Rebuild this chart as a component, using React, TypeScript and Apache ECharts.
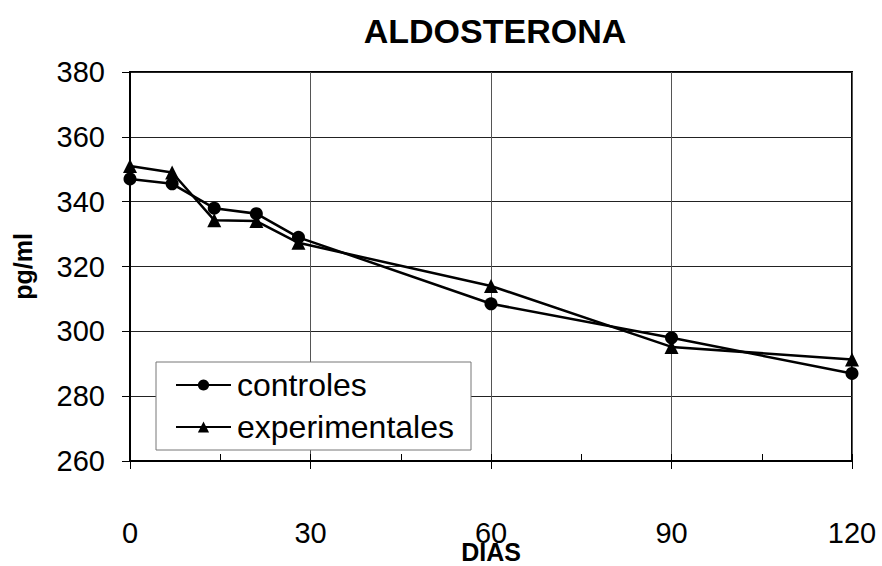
import React, { useEffect, useRef } from "react";
import * as echarts from "echarts";

const dias = [0, 7, 14, 21, 28, 60, 90, 120];
const controles = [347, 345.5, 338, 336.3, 329, 308.5, 298, 287];
const experimentales = [351, 349, 334.3, 334, 327.3, 314, 295.2, 291.3];
const xTicks = [0, 30, 60, 90, 120];
const yTicks = [260, 280, 300, 320, 340, 360, 380];

const FONT = "Liberation Sans, Arial, sans-serif";

export default function App() {
  const ref = useRef<HTMLDivElement>(null);
  useEffect(() => {
    const chart = echarts.init(ref.current!, undefined, { renderer: "svg" });
    chart.setOption({
      animation: false,
      backgroundColor: "#fff",
      textStyle: { fontFamily: FONT, color: "#000" },
      title: {
        text: "ALDOSTERONA",
        left: 495,
        top: 14,
        textAlign: "center",
        padding: 0,
        textStyle: { fontSize: 34, fontWeight: "bold", color: "#000", fontFamily: FONT },
      },
      legend: {
        orient: "vertical",
        left: 156,
        top: 362,
        padding: [7, 17, 7, 19],
        itemGap: 10,
        itemWidth: 55,
        itemHeight: 14,
        backgroundColor: "#fff",
        borderColor: "#777",
        borderWidth: 1,
        borderRadius: 0,
        textStyle: { fontSize: 32, color: "#000", fontFamily: FONT, padding: [0, 0, 0, 1] },
        data: ["controles", "experimentales"],
      },
      grid: {
        left: 130,
        right: 30,
        top: 72,
        bottom: 105,
        outerBoundsMode: "none",
        show: true,
        borderColor: "#000",
        borderWidth: 2,
      },
      xAxis: [
        {
          type: "value",
          min: xTicks[0],
          max: xTicks[xTicks.length - 1],
          interval: 30,
          name: "DIAS",
          nameLocation: "middle",
          nameGap: 82.5,
          nameMoveOverlap: false,
          nameTextStyle: { fontSize: 25, lineHeight: 16, fontWeight: "bold", color: "#000", fontFamily: FONT },
          axisLine: { show: true, onZero: false, lineStyle: { color: "#000", width: 2 } },
          axisTick: { show: true, inside: false, length: 8, lineStyle: { color: "#000" } },
          axisLabel: { fontSize: 29, lineHeight: 20, color: "#000", margin: 62, fontFamily: FONT },
          splitLine: { show: true, lineStyle: { color: "#555", width: 1 } },
        },
        {
          type: "value",
          min: 0,
          max: 120,
          interval: 15,
          position: "bottom",
          axisLine: { show: false },
          axisTick: { show: true, inside: true, length: 7, lineStyle: { color: "#000" } },
          axisLabel: { show: false },
          splitLine: { show: false },
        },
      ],
      yAxis: {
        type: "value",
        min: yTicks[0],
        max: yTicks[yTicks.length - 1],
        interval: 20,
        name: "pg/ml",
        nameLocation: "middle",
        nameGap: 95,
        nameMoveOverlap: false,
        nameRotate: 90,
        nameTextStyle: { fontSize: 25, fontWeight: "bold", color: "#000", fontFamily: FONT },
        axisLine: { show: true, lineStyle: { color: "#000", width: 2 } },
        axisTick: { show: true, inside: false, length: 8, lineStyle: { color: "#000" } },
        axisLabel: { fontSize: 29, color: "#000", margin: 25, fontFamily: FONT },
        splitLine: { show: true, lineStyle: { color: "#222", width: 1 } },
      },
      series: [
        {
          name: "controles",
          type: "line",
          data: dias.map((d, i) => [d, controles[i]]),
          symbol: "circle",
          symbolSize: 13,
          lineStyle: { color: "#000", width: 2.5 },
          itemStyle: { color: "#000" },
          z: 3,
        },
        {
          name: "experimentales",
          type: "line",
          data: dias.map((d, i) => [d, experimentales[i]]),
          symbol: "triangle",
          symbolSize: 14,
          lineStyle: { color: "#000", width: 2.5 },
          itemStyle: { color: "#000" },
          z: 3,
        },
      ],
    });
    return () => chart.dispose();
  }, []);
  return <div ref={ref} style={{ width: 882, height: 566, position: "absolute", left: 0, top: 0 }} />;
}
